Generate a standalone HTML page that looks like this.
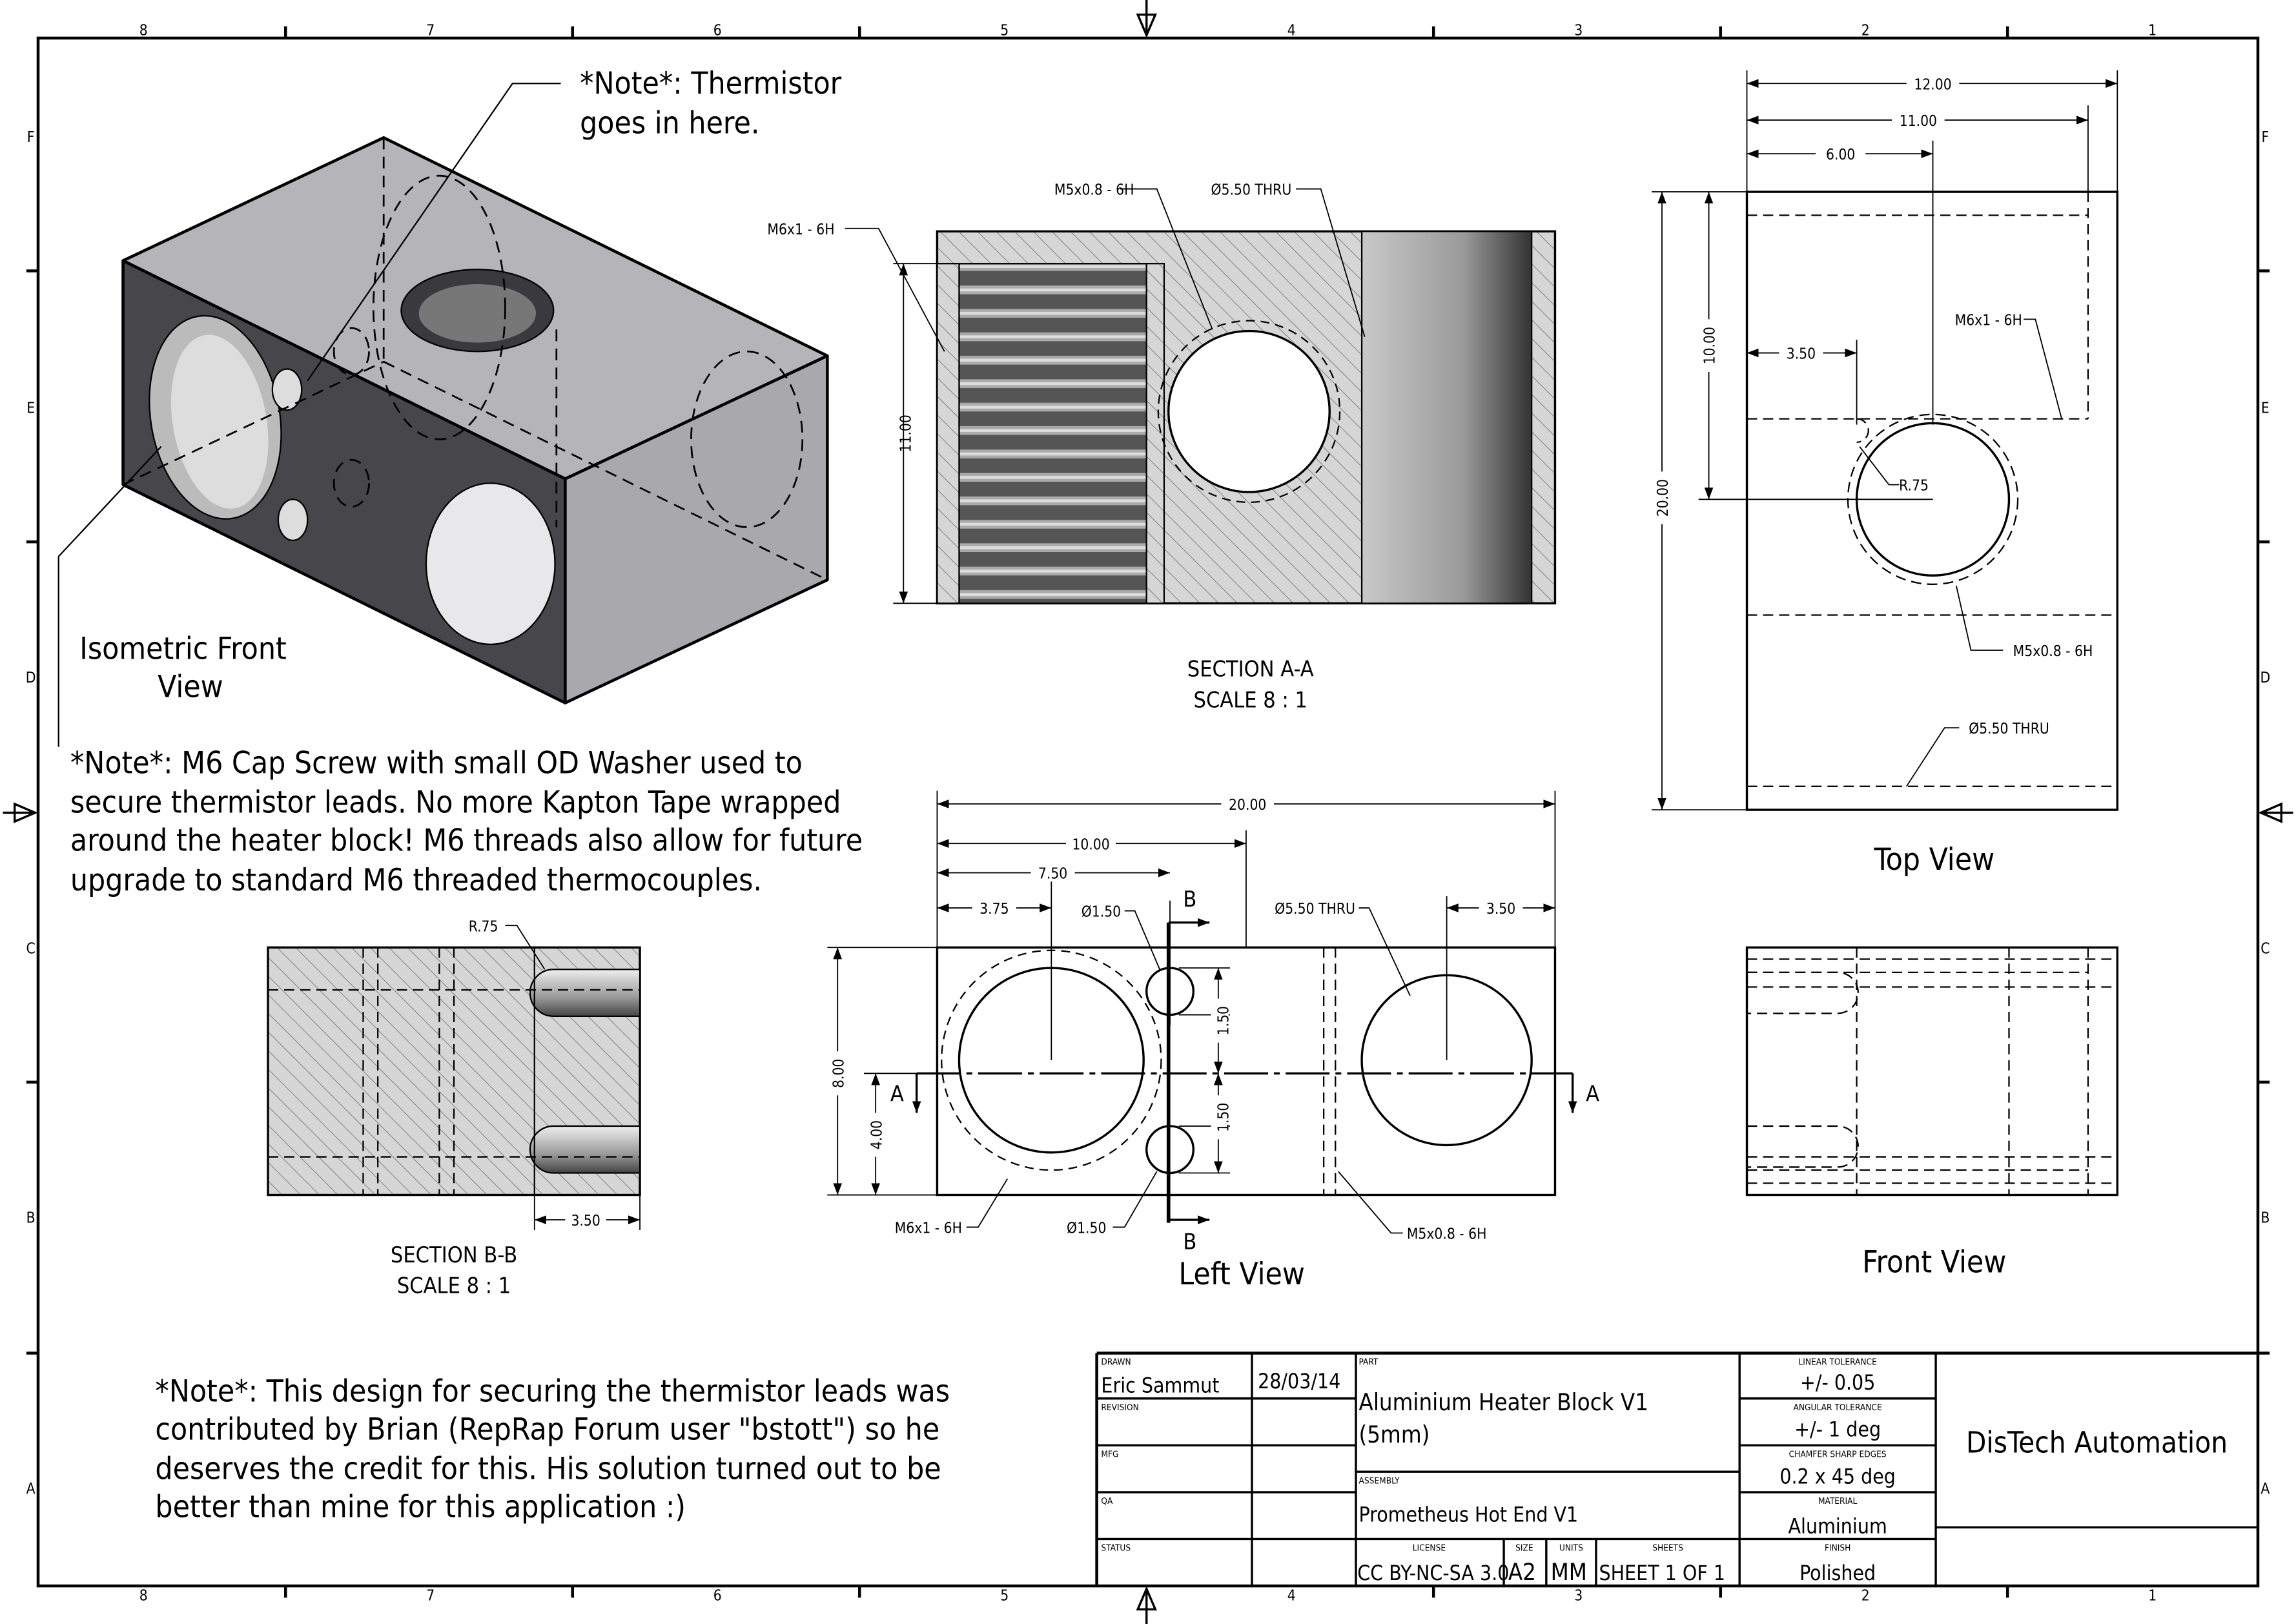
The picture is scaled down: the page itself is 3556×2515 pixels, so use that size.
<!DOCTYPE html>
<html><head><meta charset="utf-8"><style>
html,body{margin:0;padding:0;background:#fff}
svg{display:block}
text{font-family:"DejaVu Sans Condensed","Liberation Sans Narrow","Liberation Sans",sans-serif;fill:#000}
</style></head><body>
<svg width="3556" height="2515" viewBox="0 0 1568 1109" xmlns="http://www.w3.org/2000/svg">
<defs>
<pattern id="h" width="9" height="9" patternUnits="userSpaceOnUse" patternTransform="rotate(-45)">
<rect width="9" height="9" fill="#d6d6d6"/><line x1="0" y1="0" x2="0" y2="9" stroke="#777" stroke-width="0.8"/></pattern>
<pattern id="thr" width="128" height="16" patternUnits="userSpaceOnUse">
<rect width="128" height="16" fill="#555"/><rect y="3" width="128" height="6" fill="#aaa"/><rect y="5" width="128" height="2" fill="#ddd"/></pattern>
<linearGradient id="cyl" x1="0" x2="1"><stop offset="0" stop-color="#c8c8c8"/><stop offset="0.6" stop-color="#9a9a9a"/><stop offset="1" stop-color="#333"/></linearGradient>
<linearGradient id="cylv" x1="0" y1="0" x2="0" y2="1"><stop offset="0" stop-color="#eee"/><stop offset="0.6" stop-color="#999"/><stop offset="1" stop-color="#444"/></linearGradient>
<marker id="a" markerWidth="8" markerHeight="6" refX="8" refY="3" orient="auto-start-reverse" markerUnits="userSpaceOnUse"><path d="M0,0L8,3L0,6z" fill="#000"/></marker>
</defs>
<rect width="1568" height="1109" fill="#fff"/>
<!-- frame -->
<rect x="26" y="26" width="1516" height="1057" fill="none" stroke="#000" stroke-width="2"/>
<g stroke="#000" stroke-width="2">
<line x1="195" y1="18" x2="195" y2="26"/><line x1="391" y1="18" x2="391" y2="26"/><line x1="587" y1="18" x2="587" y2="26"/><line x1="979" y1="18" x2="979" y2="26"/><line x1="1175" y1="18" x2="1175" y2="26"/><line x1="1371" y1="18" x2="1371" y2="26"/>
<line x1="195" y1="1083" x2="195" y2="1091"/><line x1="391" y1="1083" x2="391" y2="1091"/><line x1="587" y1="1083" x2="587" y2="1091"/><line x1="979" y1="1083" x2="979" y2="1091"/><line x1="1175" y1="1083" x2="1175" y2="1091"/><line x1="1371" y1="1083" x2="1371" y2="1091"/>
<line x1="18" y1="185" x2="26" y2="185"/><line x1="18" y1="370" x2="26" y2="370"/><line x1="18" y1="739" x2="26" y2="739"/><line x1="18" y1="924" x2="26" y2="924"/>
<line x1="1542" y1="185" x2="1550" y2="185"/><line x1="1542" y1="370" x2="1550" y2="370"/><line x1="1542" y1="739" x2="1550" y2="739"/><line x1="1542" y1="924" x2="1550" y2="924"/>
</g>
<g fill="none" stroke="#000" stroke-width="1.5">
<path d="M783,0V24M777,10L783,24L789,10z"/><path d="M783,1109V1085M777,1099L783,1085L789,1099z"/>
<path d="M2,555H24M10,549L24,555L10,561z"/><path d="M1566,555H1544M1558,549L1544,555L1558,561z"/>
</g>
<g font-size="10" text-anchor="middle">
<text x="98" y="24">8</text><text x="294" y="24">7</text><text x="490" y="24">6</text><text x="686" y="24">5</text><text x="882" y="24">4</text><text x="1078" y="24">3</text><text x="1274" y="24">2</text><text x="1470" y="24">1</text>
<text x="98" y="1093">8</text><text x="294" y="1093">7</text><text x="490" y="1093">6</text><text x="686" y="1093">5</text><text x="882" y="1093">4</text><text x="1078" y="1093">3</text><text x="1274" y="1093">2</text><text x="1470" y="1093">1</text>
<text x="21" y="97">F</text><text x="21" y="282">E</text><text x="21" y="466">D</text><text x="21" y="651">C</text><text x="21" y="835">B</text><text x="21" y="1020">A</text>
<text x="1547" y="97">F</text><text x="1547" y="282">E</text><text x="1547" y="466">D</text><text x="1547" y="651">C</text><text x="1547" y="835">B</text><text x="1547" y="1020">A</text>
</g>

<!-- isometric -->
<g stroke="#000" stroke-linejoin="round">
<polygon points="84,178 262,94 565,243 386,327" fill="#b5b4b8" stroke-width="2"/>
<polygon points="84,178 386,327 386,480 84,331" fill="#47464b" stroke-width="2"/>
<polygon points="386,327 565,243 565,396 386,480" fill="#a9a8ad" stroke-width="2"/>
<ellipse cx="147" cy="285" rx="44" ry="70" transform="rotate(-10 147 285)" fill="#bbb"/>
<ellipse cx="150" cy="288" rx="32" ry="60" transform="rotate(-10 150 288)" fill="#ddd" stroke="none"/>
<ellipse cx="335" cy="385" rx="44" ry="55" fill="#e8e8ea"/>
<ellipse cx="196" cy="266" rx="10" ry="14" fill="#ddd"/>
<ellipse cx="200" cy="355" rx="10" ry="14" fill="#ddd"/>
<ellipse cx="326" cy="212" rx="52" ry="28" fill="#3a3a3e"/>
<ellipse cx="326" cy="214" rx="40" ry="20" fill="#777" stroke="none"/>
<g fill="none" stroke-dasharray="8,5" stroke-width="1.2">
<line x1="84" y1="331" x2="262" y2="247"/><line x1="262" y1="94" x2="262" y2="247"/><line x1="262" y1="247" x2="565" y2="396"/>
<ellipse cx="510" cy="300" rx="38" ry="60"/><ellipse cx="240" cy="240" rx="12" ry="16"/><ellipse cx="240" cy="330" rx="12" ry="16"/>
<ellipse cx="300" cy="210" rx="45" ry="90"/><line x1="380" y1="225" x2="380" y2="360"/>
</g>
<polyline points="210,260 350,57 383,57" fill="none" stroke-width="1"/>
<polyline points="40,510 40,380 110,305" fill="none" stroke-width="1"/>
</g>
<text x="396" y="64" font-size="21">*Note*: Thermistor</text>
<text x="396" y="91" font-size="21">goes in here.</text>
<text x="125" y="450" font-size="21" text-anchor="middle">Isometric Front</text>
<text x="130" y="476" font-size="21" text-anchor="middle">View</text>
<g font-size="21"><text x="48" y="528">*Note*: M6 Cap Screw with small OD Washer used to</text>
<text x="48" y="555">secure thermistor leads. No more Kapton Tape wrapped</text>
<text x="48" y="581">around the heater block! M6 threads also allow for future</text>
<text x="48" y="608">upgrade to standard M6 threaded thermocouples.</text></g>

<!-- Section A-A -->
<g stroke="#000">
<rect x="640" y="158" width="422" height="254" fill="url(#h)" stroke-width="1.5"/>
<rect x="655" y="180" width="128" height="232" fill="url(#thr)" stroke-width="1"/>
<rect x="640" y="180" width="15" height="232" fill="url(#h)" stroke-width="1"/>
<rect x="783" y="180" width="12" height="232" fill="url(#h)" stroke-width="1"/>
<rect x="930" y="158" width="116" height="254" fill="url(#cyl)" stroke-width="1"/>
<circle cx="853" cy="281" r="62" fill="none" stroke-dasharray="6,4"/>
<circle cx="853" cy="281" r="55" fill="#fff" stroke-width="1.5"/>
</g>
<g stroke="#000" stroke-width="0.8" fill="none">
<line x1="610" y1="180" x2="640" y2="180"/><line x1="610" y1="412" x2="640" y2="412"/>
<line x1="617" y1="180" x2="617" y2="412" marker-start="url(#a)" marker-end="url(#a)"/>
<polyline points="577,156 600,156 645,240"/>
<polyline points="765,129 790,129 828,225"/>
<polyline points="885,129 902,129 932,230"/>
</g>
<g font-size="10">
<text x="524" y="160">M6x1 - 6H</text><text x="720" y="133">M5x0.8 - 6H</text><text x="827" y="133">Ø5.50 THRU</text>
<text transform="translate(622,296) rotate(-90)" text-anchor="middle">11.00</text>
</g>
<text x="854" y="462" font-size="15" text-anchor="middle">SECTION A-A</text>
<text x="854" y="483" font-size="15" text-anchor="middle">SCALE 8 : 1</text>

<!-- Top view -->
<g stroke="#000" fill="none">
<rect x="1193" y="131" width="253" height="422" stroke-width="1.5"/>
<g stroke-dasharray="7,4" stroke-width="1">
<line x1="1193" y1="147" x2="1426" y2="147"/><line x1="1426" y1="131" x2="1426" y2="286"/><line x1="1193" y1="286" x2="1426" y2="286"/>
<line x1="1193" y1="420" x2="1446" y2="420"/><line x1="1193" y1="537" x2="1446" y2="537"/>
<circle cx="1320" cy="341" r="58"/><path d="M1268,286 A8,8 0 0 1 1268,302"/>
</g>
<circle cx="1320" cy="341" r="52" stroke-width="1.5"/>
</g>
<g stroke="#000" stroke-width="0.8" fill="none">
<line x1="1193" y1="48" x2="1193" y2="131"/><line x1="1446" y1="48" x2="1446" y2="131"/><line x1="1426" y1="72" x2="1426" y2="131"/><line x1="1320" y1="96" x2="1320" y2="290"/>
<line x1="1193" y1="57" x2="1446" y2="57" marker-start="url(#a)" marker-end="url(#a)"/>
<line x1="1193" y1="82" x2="1426" y2="82" marker-start="url(#a)" marker-end="url(#a)"/>
<line x1="1193" y1="105" x2="1320" y2="105" marker-start="url(#a)" marker-end="url(#a)"/>
<line x1="1128" y1="131" x2="1193" y2="131"/><line x1="1128" y1="553" x2="1193" y2="553"/><line x1="1160" y1="341" x2="1320" y2="341"/>
<line x1="1135" y1="131" x2="1135" y2="553" marker-start="url(#a)" marker-end="url(#a)"/>
<line x1="1167" y1="131" x2="1167" y2="341" marker-start="url(#a)" marker-end="url(#a)"/>
<line x1="1268" y1="232" x2="1268" y2="290"/>
<line x1="1193" y1="241" x2="1268" y2="241" marker-start="url(#a)" marker-end="url(#a)"/>
<polyline points="1382,218 1390,218 1408,286"/>
<polyline points="1297,331 1290,331 1270,305"/>
<polyline points="1368,444 1346,444 1336,400"/>
<polyline points="1338,497 1328,497 1302,537"/>
</g>
<g font-size="10" text-anchor="middle">
<rect x="1302" y="50" width="36" height="12" fill="#fff"/><text x="1320" y="61">12.00</text>
<rect x="1292" y="75" width="36" height="12" fill="#fff"/><text x="1310" y="86">11.00</text>
<rect x="1240" y="98" width="34" height="12" fill="#fff"/><text x="1257" y="109">6.00</text>
<rect x="1215" y="234" width="30" height="12" fill="#fff"/><text x="1230" y="245">3.50</text>
<rect x="1128" y="322" width="14" height="36" fill="#fff"/><text transform="translate(1139,340) rotate(-90)">20.00</text>
<rect x="1160" y="218" width="14" height="36" fill="#fff"/><text transform="translate(1171,236) rotate(-90)">10.00</text>
<text x="1358" y="222">M6x1 - 6H</text><text x="1307" y="335">R.75</text>
<text x="1402" y="448">M5x0.8 - 6H</text><text x="1372" y="501">Ø5.50 THRU</text>
</g>
<text x="1321" y="594" font-size="21" text-anchor="middle">Top View</text>

<!-- Front view -->
<g stroke="#000" fill="none">
<rect x="1193" y="647" width="253" height="169" stroke-width="1.5"/>
<g stroke-dasharray="7,4" stroke-width="1">
<line x1="1193" y1="655" x2="1446" y2="655"/><line x1="1193" y1="664" x2="1426" y2="664"/><line x1="1193" y1="674" x2="1446" y2="674"/>
<line x1="1193" y1="790" x2="1446" y2="790"/><line x1="1193" y1="799" x2="1426" y2="799"/><line x1="1193" y1="808" x2="1446" y2="808"/>
<line x1="1268" y1="647" x2="1268" y2="816"/><line x1="1426" y1="647" x2="1426" y2="816"/><line x1="1372" y1="647" x2="1372" y2="816"/>
<path d="M1193,664H1255A14,14 0 0 1 1255,692H1193"/><path d="M1193,769H1255A14,14 0 0 1 1255,797H1193"/>
</g></g>
<text x="1321" y="869" font-size="21" text-anchor="middle">Front View</text>

<!-- Section B-B -->
<g stroke="#000">
<rect x="183" y="647" width="254" height="169" fill="url(#h)" stroke-width="1.5"/>
<path d="M437,662H378A16,16 0 0 0 378,694H437z" fill="url(#cylv)"/>
<path d="M437,769H378A16,16 0 0 0 378,801H437z" fill="url(#cylv)"/>
<g stroke-dasharray="7,4" stroke-width="1" fill="none">
<line x1="183" y1="676" x2="437" y2="676"/><line x1="183" y1="790" x2="437" y2="790"/>
<line x1="248" y1="647" x2="248" y2="816"/><line x1="258" y1="647" x2="258" y2="816"/><line x1="300" y1="647" x2="300" y2="816"/><line x1="310" y1="647" x2="310" y2="816"/>
</g>
<line x1="365" y1="647" x2="365" y2="816" stroke-width="1"/>
<g stroke-width="0.8" fill="none">
<polyline points="345,632 353,632 372,662"/>
<line x1="365" y1="816" x2="365" y2="840"/><line x1="437" y1="816" x2="437" y2="840"/>
<line x1="365" y1="833" x2="437" y2="833" marker-start="url(#a)" marker-end="url(#a)"/>
</g></g>
<text x="320" y="636" font-size="10">R.75</text>
<rect x="386" y="827" width="28" height="12" fill="#fff"/><text x="400" y="837" font-size="10" text-anchor="middle">3.50</text>
<text x="310" y="862" font-size="15" text-anchor="middle">SECTION B-B</text>
<text x="310" y="883" font-size="15" text-anchor="middle">SCALE 8 : 1</text>

<!-- Left view -->
<g stroke="#000" fill="none">
<rect x="640" y="647" width="422" height="169" stroke-width="1.5"/>
<circle cx="718" cy="724" r="75" stroke-dasharray="6,4"/>
<circle cx="718" cy="724" r="63" stroke-width="1.5"/>
<circle cx="988" cy="724" r="58" stroke-width="1.5"/>
<circle cx="799" cy="677" r="16" stroke-width="1.5"/>
<circle cx="799" cy="785" r="16" stroke-width="1.5"/>
<g stroke-dasharray="7,4"><line x1="904" y1="647" x2="904" y2="816"/><line x1="912" y1="647" x2="912" y2="816"/></g>
<line x1="626" y1="733" x2="1074" y2="733" stroke-width="1.5" stroke-dasharray="30,4,4,4"/>
<line x1="626" y1="733" x2="626" y2="760" stroke-width="1.5" marker-end="url(#a)"/>
<line x1="1074" y1="733" x2="1074" y2="760" stroke-width="1.5" marker-end="url(#a)"/>
<line x1="798" y1="630" x2="798" y2="835" stroke-width="2.5"/>
<line x1="798" y1="630" x2="826" y2="630" stroke-width="1.5" marker-end="url(#a)"/>
<line x1="798" y1="833" x2="826" y2="833" stroke-width="1.5" marker-end="url(#a)"/>
<g stroke-width="0.8">
<line x1="640" y1="540" x2="640" y2="647"/><line x1="1062" y1="540" x2="1062" y2="647"/><line x1="851" y1="567" x2="851" y2="647"/>
<line x1="718" y1="590" x2="718" y2="724"/><line x1="799" y1="615" x2="799" y2="700"/><line x1="988" y1="612" x2="988" y2="724"/>
<line x1="640" y1="549" x2="1062" y2="549" marker-start="url(#a)" marker-end="url(#a)"/>
<line x1="640" y1="576" x2="851" y2="576" marker-start="url(#a)" marker-end="url(#a)"/>
<line x1="640" y1="596" x2="799" y2="596" marker-start="url(#a)" marker-end="url(#a)"/>
<line x1="640" y1="620" x2="718" y2="620" marker-start="url(#a)" marker-end="url(#a)"/>
<line x1="988" y1="620" x2="1062" y2="620" marker-start="url(#a)" marker-end="url(#a)"/>
<line x1="565" y1="647" x2="640" y2="647"/><line x1="565" y1="816" x2="640" y2="816"/><line x1="590" y1="733" x2="626" y2="733"/>
<line x1="572" y1="647" x2="572" y2="816" marker-start="url(#a)" marker-end="url(#a)"/>
<line x1="598" y1="733" x2="598" y2="816" marker-start="url(#a)" marker-end="url(#a)"/>
<line x1="805" y1="661" x2="840" y2="661"/><line x1="805" y1="693" x2="840" y2="693"/><line x1="805" y1="769" x2="840" y2="769"/><line x1="805" y1="801" x2="840" y2="801"/>
<line x1="832" y1="661" x2="832" y2="733" marker-start="url(#a)" marker-end="url(#a)"/>
<line x1="832" y1="733" x2="832" y2="801" marker-start="url(#a)" marker-end="url(#a)"/>
<polyline points="768,622 775,622 792,662"/><polyline points="928,620 935,620 963,680"/>
<polyline points="660,838 668,838 688,805"/><polyline points="760,838 768,838 790,800"/>
<polyline points="958,842 950,842 914,800"/>
</g></g>
<g font-size="10" text-anchor="middle">
<rect x="834" y="543" width="36" height="12" fill="#fff"/><text x="852" y="553">20.00</text>
<rect x="728" y="570" width="34" height="12" fill="#fff"/><text x="745" y="580">10.00</text>
<rect x="704" y="590" width="30" height="12" fill="#fff"/><text x="719" y="600">7.50</text>
<rect x="664" y="614" width="30" height="12" fill="#fff"/><text x="679" y="624">3.75</text>
<rect x="1010" y="614" width="30" height="12" fill="#fff"/><text x="1025" y="624">3.50</text>
<text x="752" y="626">Ø1.50</text><text x="898" y="624">Ø5.50 THRU</text>
<text x="634" y="842">M6x1 - 6H</text><text x="742" y="842">Ø1.50</text><text x="988" y="846">M5x0.8 - 6H</text>
<rect x="566" y="718" width="12" height="30" fill="#fff"/><text transform="translate(576,733) rotate(-90)">8.00</text>
<rect x="592" y="760" width="12" height="30" fill="#fff"/><text transform="translate(602,775) rotate(-90)">4.00</text>
<rect x="827" y="682" width="12" height="30" fill="#fff"/><text transform="translate(839,697) rotate(-90)">1.50</text>
<rect x="827" y="748" width="12" height="30" fill="#fff"/><text transform="translate(839,763) rotate(-90)">1.50</text>
</g>
<g font-size="15"><text x="608" y="752">A</text><text x="1083" y="752">A</text><text x="808" y="619">B</text><text x="808" y="853">B</text></g>
<text x="848" y="877" font-size="21" text-anchor="middle">Left View</text>

<!-- bottom note -->
<g font-size="21"><text x="106" y="957">*Note*: This design for securing the thermistor leads was</text>
<text x="106" y="983">contributed by Brian (RepRap Forum user "bstott") so he</text>
<text x="106" y="1010">deserves the credit for this. His solution turned out to be</text>
<text x="106" y="1036">better than mine for this application :)</text></g>

<!-- title block -->
<g stroke="#000" stroke-width="1.5" fill="none">
<line x1="749" y1="924" x2="1542" y2="924" stroke-width="2"/>
<line x1="749" y1="924" x2="749" y2="1083" stroke-width="2"/>
<line x1="855" y1="924" x2="855" y2="1083"/><line x1="926" y1="924" x2="926" y2="1083"/><line x1="1188" y1="924" x2="1188" y2="1083"/><line x1="1322" y1="924" x2="1322" y2="1083"/>
<line x1="749" y1="955" x2="926" y2="955"/><line x1="749" y1="987" x2="926" y2="987"/><line x1="749" y1="1019" x2="926" y2="1019"/><line x1="749" y1="1051" x2="1322" y2="1051"/>
<line x1="926" y1="1005" x2="1188" y2="1005"/>
<line x1="1188" y1="955" x2="1322" y2="955"/><line x1="1188" y1="987" x2="1322" y2="987"/><line x1="1188" y1="1019" x2="1322" y2="1019"/>
<line x1="1322" y1="1043" x2="1542" y2="1043"/>
<line x1="1027" y1="1051" x2="1027" y2="1083"/><line x1="1056" y1="1051" x2="1056" y2="1083"/><line x1="1090" y1="1051" x2="1090" y2="1083"/>
</g>
<g font-size="6">
<text x="752" y="932">DRAWN</text><text x="752" y="963">REVISION</text><text x="752" y="995">MFG</text><text x="752" y="1027">QA</text><text x="752" y="1059">STATUS</text>
<text x="928" y="932">PART</text><text x="928" y="1013">ASSEMBLY</text>
<g text-anchor="middle"><text x="1255" y="932">LINEAR TOLERANCE</text><text x="1255" y="963">ANGULAR TOLERANCE</text><text x="1255" y="995">CHAMFER SHARP EDGES</text><text x="1255" y="1027">MATERIAL</text><text x="1255" y="1059">FINISH</text>
<text x="976" y="1059">LICENSE</text><text x="1041" y="1059">SIZE</text><text x="1073" y="1059">UNITS</text><text x="1139" y="1059">SHEETS</text></g>
</g>
<g font-size="14">
<text x="752" y="951">Eric Sammut</text><text x="859" y="948">28/03/14</text>
<text x="928" y="963" font-size="16">Aluminium Heater Block V1</text><text x="928" y="985" font-size="16">(5mm)</text>
<text x="928" y="1039">Prometheus Hot End V1</text>
<text x="927" y="1079">CC BY-NC-SA 3.0</text><text x="1030" y="1079" font-size="16">A2</text><text x="1059" y="1079" font-size="16">MM</text><text x="1092" y="1079">SHEET 1 OF 1</text>
<g text-anchor="middle"><text x="1255" y="949">+/- 0.05</text><text x="1255" y="981">+/- 1 deg</text><text x="1255" y="1013">0.2 x 45 deg</text><text x="1255" y="1047">Aluminium</text><text x="1255" y="1079">Polished</text></g>
<text x="1432" y="992" font-size="20" text-anchor="middle">DisTech Automation</text>
</g>
</svg>
</body></html>
